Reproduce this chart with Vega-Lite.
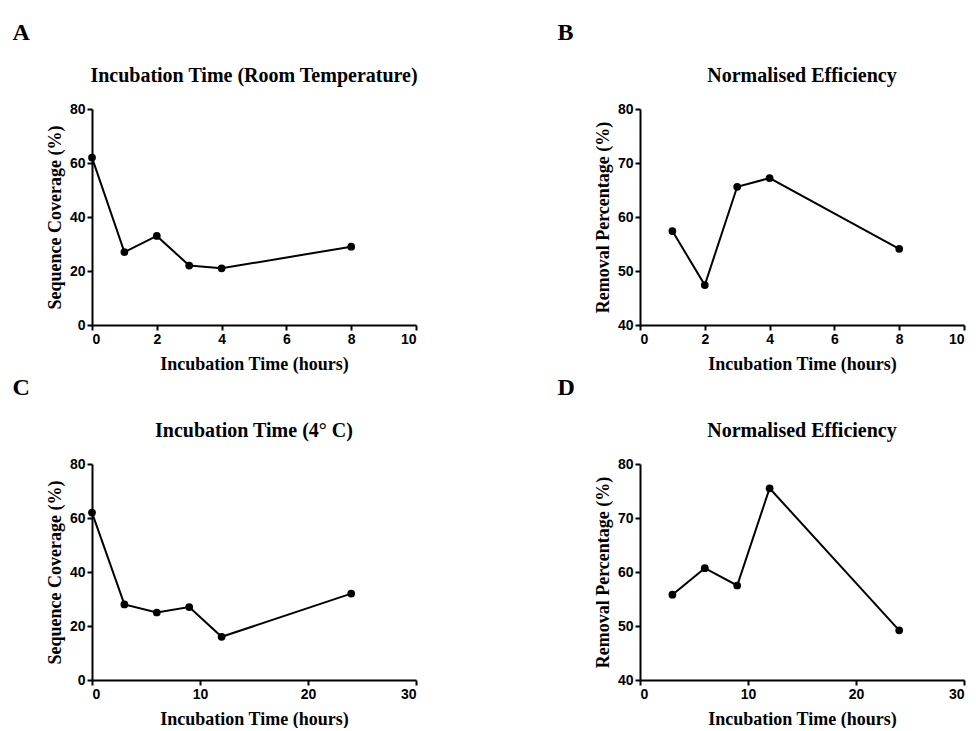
{
  "$schema": "https://vega.github.io/schema/vega-lite/v6.json",
  "padding": {"left": 12, "top": 21, "right": 5, "bottom": 0},
  "background": "white",
  "datasets": {
    "a": [{"t": 0, "v": 62}, {"t": 1, "v": 27}, {"t": 2, "v": 33}, {"t": 3, "v": 22}, {"t": 4, "v": 21}, {"t": 8, "v": 29}],
    "b": [{"t": 1, "v": 57.4}, {"t": 2, "v": 47.4}, {"t": 3, "v": 65.6}, {"t": 4, "v": 67.2}, {"t": 8, "v": 54.1}],
    "c": [{"t": 0, "v": 62}, {"t": 3, "v": 28}, {"t": 6, "v": 25}, {"t": 9, "v": 27}, {"t": 12, "v": 16}, {"t": 24, "v": 32}],
    "d": [{"t": 3, "v": 55.8}, {"t": 6, "v": 60.7}, {"t": 9, "v": 57.5}, {"t": 12, "v": 75.5}, {"t": 24, "v": 49.2}]
  },
  "columns": 2,
  "spacing": {"column": 139, "row": 3},
  "concat": [
    {
      "title": {"text": "A", "anchor": "start", "fontSize": 24, "font": "Liberation Serif", "fontWeight": "bold", "color": "black", "dx": -34, "offset": 21},
      "vconcat": [{
        "title": {"text": "Incubation Time (Room Temperature)", "frame": "group", "anchor": "middle", "font": "Liberation Serif", "fontSize": 20, "fontWeight": "bold", "color": "black", "offset": 16},
        "width": 324, "height": 216,
        "data": {"name": "a"},
        "encoding": {
          "x": {"field": "t", "type": "quantitative", "scale": {"domain": [0, 10], "nice": false}, "axis": {"values": [0, 2, 4, 6, 8, 10], "title": "Incubation Time (hours)"}},
          "y": {"field": "v", "type": "quantitative", "scale": {"domain": [0, 80], "nice": false}, "axis": {"values": [0, 20, 40, 60, 80], "title": "Sequence Coverage (%)"}}
        },
        "layer": [
          {"mark": {"type": "line", "color": "black", "strokeWidth": 2}},
          {"mark": {"type": "point", "filled": true, "color": "black", "opacity": 1, "size": 60}}
        ]
      }]
    },
    {
      "title": {"text": "B", "anchor": "start", "fontSize": 24, "font": "Liberation Serif", "fontWeight": "bold", "color": "black", "dx": -37, "offset": 21},
      "vconcat": [{
        "title": {"text": "Normalised Efficiency", "frame": "group", "anchor": "middle", "font": "Liberation Serif", "fontSize": 20, "fontWeight": "bold", "color": "black", "offset": 16},
        "width": 324, "height": 216,
        "data": {"name": "b"},
        "encoding": {
          "x": {"field": "t", "type": "quantitative", "scale": {"domain": [0, 10], "nice": false}, "axis": {"values": [0, 2, 4, 6, 8, 10], "title": "Incubation Time (hours)"}},
          "y": {"field": "v", "type": "quantitative", "scale": {"domain": [40, 80], "nice": false, "zero": false}, "axis": {"values": [40, 50, 60, 70, 80], "title": "Removal Percentage (%)"}}
        },
        "layer": [
          {"mark": {"type": "line", "color": "black", "strokeWidth": 2}},
          {"mark": {"type": "point", "filled": true, "color": "black", "opacity": 1, "size": 60}}
        ]
      }]
    },
    {
      "title": {"text": "C", "anchor": "start", "fontSize": 24, "font": "Liberation Serif", "fontWeight": "bold", "color": "black", "dx": -34, "offset": 21},
      "vconcat": [{
        "title": {"text": "Incubation Time (4° C)", "frame": "group", "anchor": "middle", "font": "Liberation Serif", "fontSize": 20, "fontWeight": "bold", "color": "black", "offset": 16},
        "width": 324, "height": 216,
        "data": {"name": "c"},
        "encoding": {
          "x": {"field": "t", "type": "quantitative", "scale": {"domain": [0, 30], "nice": false}, "axis": {"values": [0, 10, 20, 30], "title": "Incubation Time (hours)"}},
          "y": {"field": "v", "type": "quantitative", "scale": {"domain": [0, 80], "nice": false}, "axis": {"values": [0, 20, 40, 60, 80], "title": "Sequence Coverage (%)"}}
        },
        "layer": [
          {"mark": {"type": "line", "color": "black", "strokeWidth": 2}},
          {"mark": {"type": "point", "filled": true, "color": "black", "opacity": 1, "size": 60}}
        ]
      }]
    },
    {
      "title": {"text": "D", "anchor": "start", "fontSize": 24, "font": "Liberation Serif", "fontWeight": "bold", "color": "black", "dx": -37, "offset": 21},
      "vconcat": [{
        "title": {"text": "Normalised Efficiency", "frame": "group", "anchor": "middle", "font": "Liberation Serif", "fontSize": 20, "fontWeight": "bold", "color": "black", "offset": 16},
        "width": 324, "height": 216,
        "data": {"name": "d"},
        "encoding": {
          "x": {"field": "t", "type": "quantitative", "scale": {"domain": [0, 30], "nice": false}, "axis": {"values": [0, 10, 20, 30], "title": "Incubation Time (hours)"}},
          "y": {"field": "v", "type": "quantitative", "scale": {"domain": [40, 80], "nice": false, "zero": false}, "axis": {"values": [40, 50, 60, 70, 80], "title": "Removal Percentage (%)"}}
        },
        "layer": [
          {"mark": {"type": "line", "color": "black", "strokeWidth": 2}},
          {"mark": {"type": "point", "filled": true, "color": "black", "opacity": 1, "size": 60}}
        ]
      }]
    }
  ],
  "config": {
    "view": {"stroke": null},
    "axis": {
      "grid": false,
      "domainColor": "black", "domainWidth": 2,
      "tickColor": "black", "tickWidth": 2, "tickSize": 5,
      "labelFont": "Liberation Sans", "labelFontWeight": "bold", "labelFontSize": 14, "labelColor": "black",
      "titleFont": "Liberation Serif", "titleFontWeight": "bold", "titleFontSize": 18, "titleColor": "black",
      "labelPadding": 2
    },
    "axisX": {"titlePadding": 9},
    "axisY": {"titlePadding": 5}
  }
}
